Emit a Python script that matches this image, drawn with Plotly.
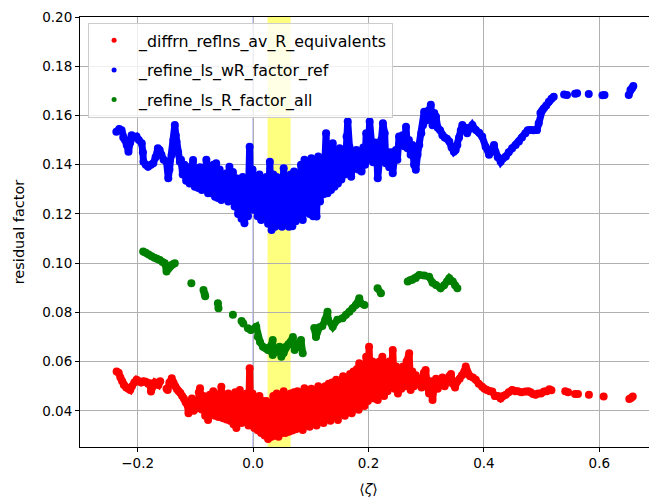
import plotly.graph_objects as go

N = None

# ---- red: _diffrn_reflns_av_R_equivalents ----
red_x = [-0.2365, -0.233, -0.230, -0.227, -0.224, -0.220, -0.216, -0.213, -0.210, -0.206, -0.202, -0.198,
         -0.194, -0.190, -0.186, -0.182, -0.179, -0.177, -0.174, -0.170, -0.167, -0.164, -0.161, N,
         -0.150, -0.148, -0.145, -0.141, -0.138, -0.135, -0.132, -0.129, -0.126, -0.123, -0.120, -0.117,
         -0.114, -0.112, -0.109,
         -0.106, -0.103, -0.100, -0.097, -0.094, -0.092, -0.089, -0.086, -0.083, -0.080, -0.078, -0.075,
         -0.072, -0.069, -0.066, -0.063, -0.060, -0.057, -0.055, -0.052, -0.049, -0.046, -0.043, -0.040,
         -0.037, -0.034, -0.031, -0.029, -0.026, -0.023, -0.020, -0.017, -0.014, -0.011, -0.008, -0.006,
         -0.004, -0.001, 0.002, 0.005, 0.008, 0.011, 0.014, 0.017, 0.020, 0.023, 0.026, 0.029, 0.032,
         0.035, 0.038, 0.041, 0.044, 0.047, 0.050, 0.053, 0.056, 0.059, 0.062, 0.065, 0.068, 0.071, 0.074,
         0.077, 0.080, 0.083, 0.086, 0.089, 0.092, 0.095, 0.098, 0.101, 0.104, 0.107, 0.110, 0.113, 0.116,
         0.119, 0.122, 0.125, 0.128, 0.131, 0.134, 0.137, 0.140, 0.144, 0.147, 0.150, 0.153, 0.156, 0.159,
         0.162, 0.165, 0.168, 0.171, 0.174, 0.177, 0.180, 0.183, 0.184, 0.187, 0.190, 0.193, 0.196, 0.199,
         0.201, 0.204, 0.207, 0.210, 0.213, 0.216, 0.219, 0.222, 0.224, 0.227, 0.230, 0.233, 0.236, 0.239,
         0.242, 0.245, 0.248, 0.251, 0.254, 0.257, 0.260, 0.263, 0.266, 0.2705, 0.273, 0.276, 0.279, 0.282,
         0.285, 0.288, 0.292, 0.296, 0.299, 0.302, 0.305, 0.308, 0.311, 0.314, 0.317, 0.320, 0.324, 0.328,
         0.332, 0.336, 0.340, 0.343, 0.346, 0.350, 0.354, 0.358, 0.362, 0.366, 0.3685, 0.372, 0.376, 0.381,
         0.386, 0.391, 0.397, 0.401, 0.405, 0.410, 0.4145, 0.419, 0.424, 0.429, 0.433, 0.438, 0.443, 0.449,
         0.454, 0.459, 0.465, 0.472, 0.477, 0.481, 0.485, 0.4895, 0.494, 0.499, 0.504, 0.509, 0.5135, 0.517,
         N, 0.541, 0.546, N, 0.558, 0.563, N, 0.582, N, 0.6075, N, 0.652, 0.655, 0.658]
red_y = [0.056, 0.0555, 0.0535, 0.052, 0.0505, 0.0495, 0.049, 0.0485, 0.050, 0.0515, 0.0526, 0.052,
         0.0515, 0.052, 0.0518, 0.051, 0.0512, 0.0478, 0.050, 0.0515, 0.051, 0.0505, 0.052, N,
         0.049, 0.0485, 0.0515, 0.0532, 0.0515, 0.050, 0.0488, 0.048, 0.0472, 0.046, 0.045, 0.0435,
         0.0425, 0.039, 0.043,
         0.045, 0.040, 0.044, 0.041, 0.0475, 0.0492, 0.0405, 0.046, 0.038, 0.045, 0.0363, 0.0465,
         0.039, 0.0479, 0.038, 0.046, 0.0375, 0.047, 0.0498, 0.037, 0.046, 0.0365, 0.047, 0.036,
         0.046, 0.0345, 0.0475, 0.033, 0.045, 0.0485, 0.035, 0.046, 0.036, 0.047, 0.034, 0.0573,
         0.035, 0.047, 0.033, 0.045, 0.032, 0.046, 0.031, 0.044, 0.030, 0.044, 0.0285, 0.043, 0.0295,
         0.046, 0.030, 0.047, 0.0295, 0.046, 0.031, 0.048, 0.031, 0.046, 0.0315, 0.047, 0.032, 0.0475, 0.0325,
         0.048, 0.033, 0.047, 0.0322, 0.0492, 0.034, 0.048, 0.0335, 0.049, 0.035, 0.048, 0.034, 0.050, 0.036,
         0.049, 0.035, 0.050, 0.037, 0.051, 0.036, 0.0515, 0.038, 0.0526, 0.0363, 0.052, 0.039, 0.054, 0.038,
         0.053, 0.040, 0.055, 0.039, 0.056, 0.041, 0.057, 0.0404, 0.0593, 0.043, 0.058, 0.042, 0.062, 0.044,
         0.066, 0.046, 0.060, 0.045, 0.058, 0.0444, 0.060, 0.047, 0.062, 0.046, 0.058, 0.048, 0.060, 0.050,
         0.0647, 0.049, 0.058, 0.047, 0.056, 0.049, 0.058, 0.050, 0.060, 0.0634, 0.0485, 0.056, 0.050, 0.0545,
         0.051, 0.053, 0.0495, 0.0555, 0.0566, 0.050, 0.047, 0.052, 0.0444, 0.050, 0.053, 0.049, 0.052, 0.0535,
         0.050, 0.0525, 0.054, 0.055, 0.051, 0.0495, 0.052, 0.053, 0.0545, 0.056, 0.058, 0.055, 0.054, 0.0535,
         0.0526, 0.051, 0.0498, 0.049, 0.0485, 0.048, 0.0478, 0.046, 0.046, 0.045, 0.046, 0.0465, 0.0475, 0.0485,
         0.048, 0.048, 0.0475, 0.0478, 0.048, 0.0475, 0.0468, 0.0465, 0.047, 0.047, 0.0478, 0.048, 0.0488, 0.0484,
         N, 0.048, 0.0475, N, 0.0468, 0.0468, N, 0.0465, N, 0.0458, N, 0.0448, 0.0452, 0.0458]

# ---- blue: _refine_ls_wR_factor_ref ----
blue_x = [-0.237, -0.232, -0.228, -0.225, -0.222, -0.219, -0.216, -0.213, -0.2105, -0.206, -0.202, -0.198,
          -0.193, -0.191, -0.190, -0.186, -0.182, -0.177, -0.173, -0.169, -0.165, -0.162, -0.159, -0.155,
          -0.150, -0.147, -0.145, -0.141, -0.138, -0.1357, -0.134, -0.1328, -0.130, -0.127,
          -0.125, -0.122, -0.119, -0.116, -0.113, -0.110, -0.107, -0.104, -0.101, -0.098, -0.095, -0.092,
          -0.089, -0.086, -0.083, -0.081, -0.078, -0.075, -0.072, -0.069, -0.066, -0.064, -0.061, -0.058,
          -0.055, -0.052, -0.049, -0.046, -0.043, -0.041, -0.038, -0.035, -0.032, -0.029, -0.026, -0.023,
          -0.020, -0.018, -0.015, -0.012, -0.009, -0.006, -0.004, -0.001, 0.002, 0.005, 0.008, 0.011, 0.014,
          0.017, 0.020, 0.023, 0.026, 0.029, 0.032, 0.035, 0.038, 0.041, 0.044, 0.047, 0.050, 0.053, 0.056,
          0.059, 0.062, 0.065, 0.068, 0.071, 0.074, 0.077, 0.080, 0.083, 0.086, 0.089, 0.092, 0.095, 0.098,
          0.101, 0.104, 0.107, 0.110, 0.113, 0.116, 0.119, 0.122, 0.1265, 0.129, 0.132, 0.135, 0.138, 0.141,
          0.144, 0.147, 0.150, 0.153, 0.156, 0.159, 0.162, 0.164, 0.167, 0.170, 0.173, 0.176, 0.179, 0.182,
          0.185, 0.188, 0.191, 0.194, 0.196, 0.199, 0.202, 0.205, 0.208, 0.211, 0.214, 0.216, 0.219, 0.222,
          0.225, 0.228, 0.230, 0.233, 0.236, 0.239, 0.242, 0.245, 0.2475, 0.250, 0.253, 0.256, 0.259, 0.262,
          0.265, 0.2675, 0.270, 0.273, 0.276, 0.279, 0.282, 0.285, 0.288, 0.2915, 0.2945, 0.2965, 0.300, 0.304,
          0.308, 0.311, 0.314, 0.317, 0.320, 0.324, 0.328, 0.332, 0.336, 0.340, 0.344, 0.348, 0.351, 0.354,
          0.357, 0.360, 0.3627, 0.367, 0.371, 0.375, 0.380, 0.386, 0.392, 0.397, 0.403, 0.409, 0.413, 0.4175,
          0.420, 0.424, 0.429, 0.433, 0.438, 0.443, 0.449, 0.455, 0.4607, 0.466, 0.472, 0.476, 0.481, 0.486,
          0.492, 0.495, 0.498, 0.501, 0.504, 0.508, 0.5125, 0.517, 0.521,
          N, 0.539, 0.544, N, 0.558, 0.5615, N, 0.5817, N, 0.6055, 0.609, N, 0.651, 0.654, 0.657, 0.659]
blue_y = [0.1534, 0.1545, 0.154, 0.151, 0.150, 0.148, 0.1453, 0.149, 0.152, 0.151, 0.1514, 0.150,
          0.1487, 0.145, 0.1412, 0.140, 0.1392, 0.140, 0.1406, 0.143, 0.1467, 0.146, 0.144, 0.142,
          0.1412, 0.1345, 0.138, 0.144, 0.150, 0.1561, 0.152, 0.1494, 0.145, 0.1412,
          0.142, 0.136, 0.140, 0.1335, 0.139, 0.1324, 0.138, 0.1419, 0.131, 0.137, 0.1305, 0.139,
          0.1297, 0.137, 0.131, 0.142, 0.1284, 0.138, 0.1284, 0.140, 0.127, 0.1406, 0.1265, 0.138,
          0.1257, 0.136, 0.127, 0.1365, 0.125, 0.1392, 0.1257, 0.137, 0.123, 0.1345, 0.120, 0.133,
          0.118, 0.135, 0.1162, 0.131, 0.119, 0.1473, 0.124, 0.138, 0.1216, 0.134, 0.119, 0.136, 0.1175,
          0.133, 0.1203, 0.135, 0.116, 0.1412, 0.1135, 0.136, 0.1148, 0.135, 0.116, 0.134, 0.1148, 0.1385, 0.116,
          0.133, 0.1148, 0.136, 0.115, 0.1372, 0.117, 0.135, 0.119, 0.140, 0.1175, 0.142, 0.121, 0.139, 0.120,
          0.1426, 0.119, 0.140, 0.1189, 0.1433, 0.125, 0.140, 0.128, 0.1528, 0.1284, 0.145, 0.1297, 0.1487, 0.131,
          0.146, 0.1324, 0.1467, 0.134, 0.145, 0.136, 0.1515, 0.1575, 0.1473, 0.1351, 0.142, 0.139, 0.146, 0.138,
          0.1446, 0.1372, 0.147, 0.140, 0.1528, 0.142, 0.1575, 0.1473, 0.141, 0.149, 0.146, 0.1345, 0.142, 0.150,
          0.1568, 0.1528, 0.1406, 0.145, 0.139, 0.145, 0.1365, 0.143, 0.146, 0.142, 0.1514, 0.148, 0.152, 0.1475,
          0.1554, 0.1467, 0.150, 0.144, 0.148, 0.140, 0.1379, 0.144, 0.148, 0.1528, 0.156, 0.1615, 0.158, 0.162,
          0.1643, 0.156, 0.161, 0.1595, 0.155, 0.154, 0.152, 0.151, 0.1505, 0.1494, 0.147, 0.1453, 0.146, 0.148,
          0.151, 0.154, 0.1561, 0.155, 0.1528, 0.155, 0.1561, 0.1541, 0.153, 0.1514, 0.1473, 0.144, 0.146, 0.148,
          0.1453, 0.143, 0.1412, 0.1425, 0.1433, 0.145, 0.1467, 0.148, 0.1494, 0.151, 0.1528, 0.154, 0.1541, 0.154,
          0.1541, 0.1568, 0.161, 0.162, 0.1629, 0.164, 0.1656, 0.1668, 0.1676,
          N, 0.1685, 0.1683, N, 0.1688, 0.169, N, 0.1687, N, 0.1682, 0.1683, N, 0.1683, 0.1703, 0.1712, 0.172]

# ---- green: _refine_ls_R_factor_all ----
green_x = [-0.1905, -0.186, -0.181, -0.176, -0.171, -0.1665, -0.1616, -0.157, -0.153, -0.150, -0.146, -0.142,
           -0.139, -0.1357, N, -0.107, N, -0.086, -0.084, -0.083, N, -0.061, -0.060, N, -0.035, N,
           -0.020, -0.017, N, -0.009, -0.004, 0.0055, 0.008, 0.012, 0.017, 0.021, 0.0256, 0.030, 0.034, 0.034,
           0.040, 0.046, 0.049, 0.053, 0.057, 0.061, 0.065, 0.069, 0.072, 0.077, 0.083, 0.086, N,
           0.106, 0.109, 0.115, 0.120, 0.125, 0.129, 0.130, 0.138, 0.146, 0.155, 0.161, 0.167, 0.1725,
           0.178, 0.184, 0.1865, 0.193, N, 0.2157, 0.2216, N, 0.268, 0.272, 0.276, 0.282, 0.288, 0.2965,
           0.305, 0.311, 0.317, 0.325, 0.331, 0.336, 0.340, 0.346, 0.350, 0.354]
green_y = [0.1047, 0.1042, 0.1035, 0.1028, 0.1022, 0.1018, 0.1013, 0.1005, 0.100, 0.0966, 0.098, 0.099,
           0.0995, 0.100, N, 0.0918, N, 0.0891, 0.0875, 0.0865, N, 0.0837, 0.0817, N, 0.079, N,
           0.0765, 0.0755, N, 0.0735, 0.0728, 0.0742, 0.070, 0.068, 0.066, 0.0655, 0.0647, 0.066, 0.0688, 0.0627,
           0.064, 0.066, 0.062, 0.0635, 0.066, 0.067, 0.068, 0.070, 0.0647, 0.066, 0.0688, 0.0634, N,
           0.0736, 0.070, 0.074, 0.0745, 0.077, 0.0803, 0.077, 0.0742, 0.077, 0.0776, 0.079, 0.0803, 0.0817,
           0.083, 0.0857, 0.0837, 0.083, N, 0.0898, 0.0878, N, 0.0925, 0.093, 0.0932, 0.094, 0.0952, 0.095,
           0.0945, 0.092, 0.0911, 0.0898, 0.091, 0.0925, 0.0939, 0.0925, 0.091, 0.0898]

series = [
    ("_diffrn_reflns_av_R_equivalents", red_x, red_y, "#ff0000"),
    ("_refine_ls_wR_factor_ref", blue_x, blue_y, "#0000ff"),
    ("_refine_ls_R_factor_all", green_x, green_y, "#008000"),
]

fig = go.Figure()
for i, (name, xs, ys, col) in enumerate(series):
    fig.add_trace(go.Scatter(x=xs, y=ys, mode="lines+markers", showlegend=False,
                             line=dict(color=col, width=7), marker=dict(color=col, size=8),
                             connectgaps=False, hoverinfo="skip"))
    fig.add_trace(go.Scatter(x=xs, y=ys, mode="markers", name=name, legendgroup=str(i),
                             marker=dict(color=col, size=5), connectgaps=False))

fig.add_vrect(x0=0.025, x1=0.065, fillcolor="rgba(255,255,0,0.5)", line_width=0, layer="below")
fig.add_vline(x=0, line=dict(color="rgba(0,0,255,0.3)", width=1.5), layer="below")

axis_common = dict(showline=True, linecolor="black", linewidth=1, ticks="outside", ticklen=4,
                   tickwidth=1, tickcolor="black", showgrid=True, gridcolor="#b0b0b0", gridwidth=1,
                   zeroline=False, tickfont=dict(family="DejaVu Sans", size=13.5, color="black"))

fig.update_xaxes(range=[-0.3, 0.7], tickvals=[-0.2, 0.0, 0.2, 0.4, 0.6],
                 ticktext=["\u22120.2", "0.0", "0.2", "0.4", "0.6"], mirror=True,
                 title=dict(text="\u27e8<i>\u03b6</i>\u27e9", standoff=13,
                            font=dict(family="DejaVu Sans", size=14, color="black")),
                 **axis_common)
fig.update_yaxes(range=[0.0253, 0.20], tickvals=[0.04, 0.06, 0.08, 0.10, 0.12, 0.14, 0.16, 0.18, 0.20],
                 tickformat=".2f",
                 title=dict(text="residual factor", standoff=14,
                            font=dict(family="DejaVu Sans", size=14.5, color="black")),
                 **axis_common)

# page body has an 8px margin, so the figure is 8px smaller and margins shifted by 8px
fig.update_layout(
    width=649, height=493,
    margin=dict(l=72, r=0, t=9, b=54, autoexpand=False),
    plot_bgcolor="white", paper_bgcolor="white",
    font=dict(family="DejaVu Sans", size=13, color="black"),
    legend=dict(x=0.014, y=0.987, xanchor="left", yanchor="top",
                bgcolor="rgba(255,255,255,0.8)", bordercolor="#cccccc", borderwidth=1,
                font=dict(family="DejaVu Sans", size=15.8, color="black"),
                tracegroupgap=6, itemwidth=40),
)

fig.write_html("out.html")
